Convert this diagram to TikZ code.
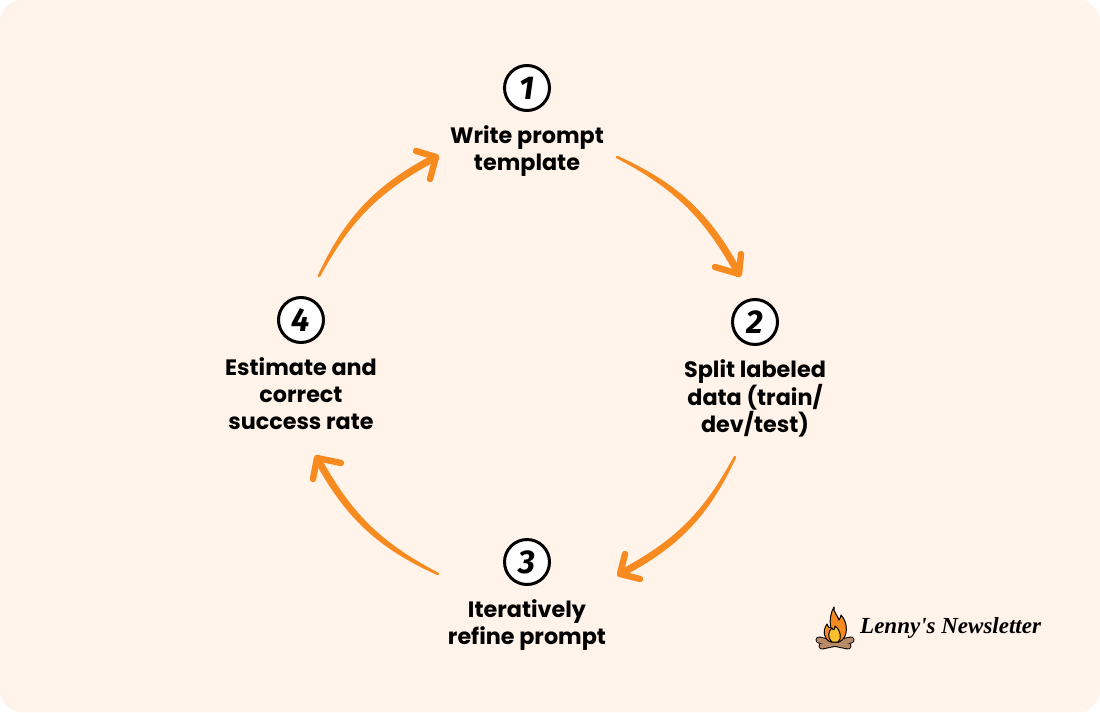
\documentclass[tikz,border=0pt]{standalone}
\usepackage{fontspec}
\setmainfont{Poppins}
\newfontfamily\digitfont{Fira Sans}
\newfontfamily\brandfont{Liberation Serif}
\usetikzlibrary{positioning,calc}
\definecolor{panelbg}{HTML}{FFF3EA}
\definecolor{floworange}{HTML}{F78B1F}
\definecolor{flameyellow}{HTML}{FBC02D}
\definecolor{logbrown}{HTML}{B98A68}
\tikzset{
	stepnum/.style={circle,draw=black,fill=white,line width=3pt,minimum size=45pt,inner sep=0pt,font=\digitfont\fontsize{33}{33}\selectfont\bfseries\itshape},
	steplabel/.style={align=center,inner sep=0pt,font=\fontsize{22.3}{27}\selectfont\bfseries},
	flowshaft/.style={fill=floworange,draw=floworange,line width=2.6pt,line join=round,line cap=round},
	flowbarb/.style={draw=floworange,line width=6.4pt,line cap=round,line join=round},
	logoline/.style={draw=black,line width=1pt,line join=round},
	logedge/.style={draw=black,line width=7pt,line cap=round},
	logcore/.style={draw=logbrown,line width=5pt,line cap=round}
}
\begin{document}
\begin{tikzpicture}[x=1pt,y=-1pt]
	\useasboundingbox (0,0) rectangle (1100,712);
	\fill [white] (0,0) rectangle (1100,712);
	\fill [panelbg,rounded corners=22pt] (0,0) rectangle (1100,712);
	% steps
	\node [stepnum] (num1) at (527,88) {1};
	\node [stepnum] (num2) at (755,322) {2};
	\node [stepnum] (num3) at (527,562) {3};
	\node [stepnum] (num4) at (301,320) {4};
	\node [steplabel,below=13pt of num1] (label1) {Write prompt\\template};
	\node [steplabel,below=13pt of num2] (label2) {Split labeled\\data (train/\\dev/test)};
	\node [steplabel,below=13pt of num3] (label3) {Iteratively\\refine prompt};
	\node [steplabel,below=13pt of num4] (label4) {Estimate and\\correct\\success rate};
	% arrows
	\coordinate (s1) at (617,157);
	\coordinate (t1) at (739,274);
	\coordinate (a1) at (715,267);
	\coordinate (b1) at (741,254);
	\coordinate (s2) at (735,457);
	\coordinate (t2) at (620,574);
	\coordinate (a2) at (640,579);
	\coordinate (b2) at (625,554);
	\coordinate (s3) at (438,574);
	\coordinate (t3) at (317,458);
	\coordinate (a3) at (313,479);
	\coordinate (b3) at (341,463);
	\coordinate (s4) at (319,276);
	\coordinate (t4) at (436,157);
	\coordinate (a4) at (416,151);
	\coordinate (b4) at (430,179);
	\foreach \i in {1,2,3,4}{
		\filldraw [flowshaft] (s\i) to [bend left=18.5] ($(t\i)!2.4pt!-90:(s\i)$) -- ($(t\i)!2.4pt!90:(s\i)$) to [bend right=17] (s\i);
		\draw [flowbarb] (a\i) -- (t\i) -- (b\i);
	}
	% logo
	\draw [logedge] (819,640) -- (848,646);
	\draw [logedge] (851,640) -- (822,646);
	\draw [logcore] (819,640) -- (848,646);
	\draw [logcore] (851,640) -- (822,646);
	\draw [logoline,fill=floworange] (831,642) .. controls (824,640) and (822,631) .. (827,624) .. controls (828,627) and (829,628) .. (831,628) .. controls (829,620) and (831,612) .. (834,607) .. controls (833,612) and (838,616) .. (839,620) .. controls (840,618) and (841,617) .. (841,615) .. controls (848,622) and (849,638) .. (839,642) -- cycle;
	\draw [logoline,fill=flameyellow] (832,642) .. controls (827,638) and (828,631) .. (832,628) .. controls (833,631) and (835,630) .. (835,626) .. controls (841,630) and (842,639) .. (838,642) -- cycle;
	\node [inner sep=0pt,anchor=west] (brand) at (860,628) {\brandfont\fontsize{23}{23}\selectfont\bfseries\itshape Lenny's Newsletter};
\end{tikzpicture}
\end{document}
